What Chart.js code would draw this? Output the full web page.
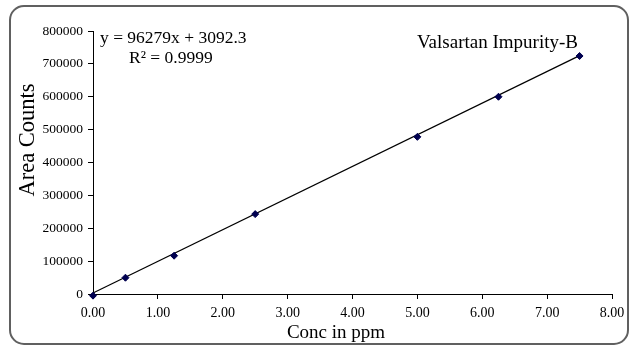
<!DOCTYPE html>
<html>
<head>
<meta charset="utf-8">
<script src="https://cdn.jsdelivr.net/npm/chart.js@4/dist/chart.umd.min.js"></script>
<style>
html,body{margin:0;padding:0;background:#fff;}
canvas{display:block;}
</style>
</head>
<body>
<canvas id="c" width="639" height="355"></canvas>
<script>
// Data
const concPpm = [0, 0.5, 1.25, 2.5, 5.0, 6.25, 7.5];
const areaCounts = [-5000, 49500, 116500, 243000, 478000, 600000, 724000];
const trendX = [0, 7.5];
const trendY = [3092, 725185];
const xTicks = [0, 1, 2, 3, 4, 5, 6, 7, 8];
const yTicks = [0, 100000, 200000, 300000, 400000, 500000, 600000, 700000, 800000];
const equationText = 'y = 96279x + 3092.3';
const r2Text = 'R² = 0.9999';
const seriesTitle = 'Valsartan Impurity-B';
const xTitle = 'Conc in ppm';
const yTitle = 'Area Counts';

const FONT = '"Liberation Serif", "Times New Roman", serif';

const framePlugin = {
  id: 'frame',
  beforeDraw(chart) {
    const ctx = chart.ctx;
    ctx.save();
    ctx.fillStyle = '#fff';
    ctx.fillRect(0, 0, chart.width, chart.height);
    const x = 10, y = 6, w = 618, h = 338, r = 14;
    ctx.beginPath();
    ctx.moveTo(x + r, y);
    ctx.lineTo(x + w - r, y);
    ctx.arcTo(x + w, y, x + w, y + r, r);
    ctx.lineTo(x + w, y + h - r);
    ctx.arcTo(x + w, y + h, x + w - r, y + h, r);
    ctx.lineTo(x + r, y + h);
    ctx.arcTo(x, y + h, x, y + h - r, r);
    ctx.lineTo(x, y + r);
    ctx.arcTo(x, y, x + r, y, r);
    ctx.closePath();
    ctx.lineWidth = 2;
    ctx.strokeStyle = '#606060';
    ctx.stroke();
    ctx.restore();
  },
  afterDraw(chart) {
    const ctx = chart.ctx;
    ctx.save();
    ctx.fillStyle = '#000';
    ctx.textBaseline = 'middle';
    ctx.textAlign = 'left';
    ctx.font = '17.5px ' + FONT;
    ctx.fillText(equationText, 100, 38);
    ctx.fillText(r2Text, 129, 58);
    ctx.font = '19px ' + FONT;
    ctx.fillText(seriesTitle, 417, 43);
    ctx.textAlign = 'center';
    ctx.font = '19px ' + FONT;
    ctx.fillText(xTitle, 336, 333);
    ctx.translate(28, 140);
    ctx.rotate(-Math.PI / 2);
    ctx.font = '22.5px ' + FONT;
    ctx.fillText(yTitle, 0, 0);
    ctx.restore();
  }
};

new Chart(document.getElementById('c'), {
  type: 'scatter',
  data: {
    datasets: [
      {
        label: 'Trendline',
        data: trendX.map((x, i) => ({ x: x, y: trendY[i] })),
        showLine: true,
        borderColor: '#000',
        borderWidth: 1.2,
        pointRadius: 0,
        fill: false,
        clip: false,
        order: 2
      },
      {
        label: seriesTitle,
        data: concPpm.map((x, i) => ({ x: x, y: areaCounts[i] })),
        showLine: false,
        pointStyle: 'rectRot',
        pointRadius: 3.5,
        backgroundColor: '#000050',
        borderColor: '#000050',
        borderWidth: 1,
        clip: false,
        order: 1
      }
    ]
  },
  options: {
    responsive: false,
    animation: false,
    events: [],
    layout: { padding: { left: 10, right: 27, top: 31, bottom: 10 } },
    plugins: { legend: { display: false }, tooltip: { enabled: false } },
    scales: {
      x: {
        type: 'linear',
        min: 0, max: 8,
        afterFit(scale) { scale.height = 51; },
        afterBuildTicks(scale) { scale.ticks = xTicks.map(v => ({ value: v })); },
        ticks: {
          callback: v => Number(v).toFixed(2),
          color: '#000',
          font: { family: FONT, size: 14 },
          padding: 6,
          maxRotation: 0
        },
        grid: { display: true, drawOnChartArea: false, drawTicks: true, tickLength: 5, color: '#000', lineWidth: 1 },
        border: { display: true, color: '#000', width: 1 },
        title: { display: false }
      },
      y: {
        type: 'linear',
        min: 0, max: 800000,
        afterFit(scale) { scale.width = 83; },
        afterBuildTicks(scale) { scale.ticks = yTicks.map(v => ({ value: v })); },
        ticks: {
          callback: v => String(v),
          color: '#000',
          font: { family: FONT, size: 13.5 },
          padding: 5
        },
        grid: { display: true, drawOnChartArea: false, drawTicks: true, tickLength: 5, color: '#000', lineWidth: 1 },
        border: { display: true, color: '#000', width: 1 },
        title: { display: false }
      }
    }
  },
  plugins: [framePlugin]
});
</script>
</body>
</html>
